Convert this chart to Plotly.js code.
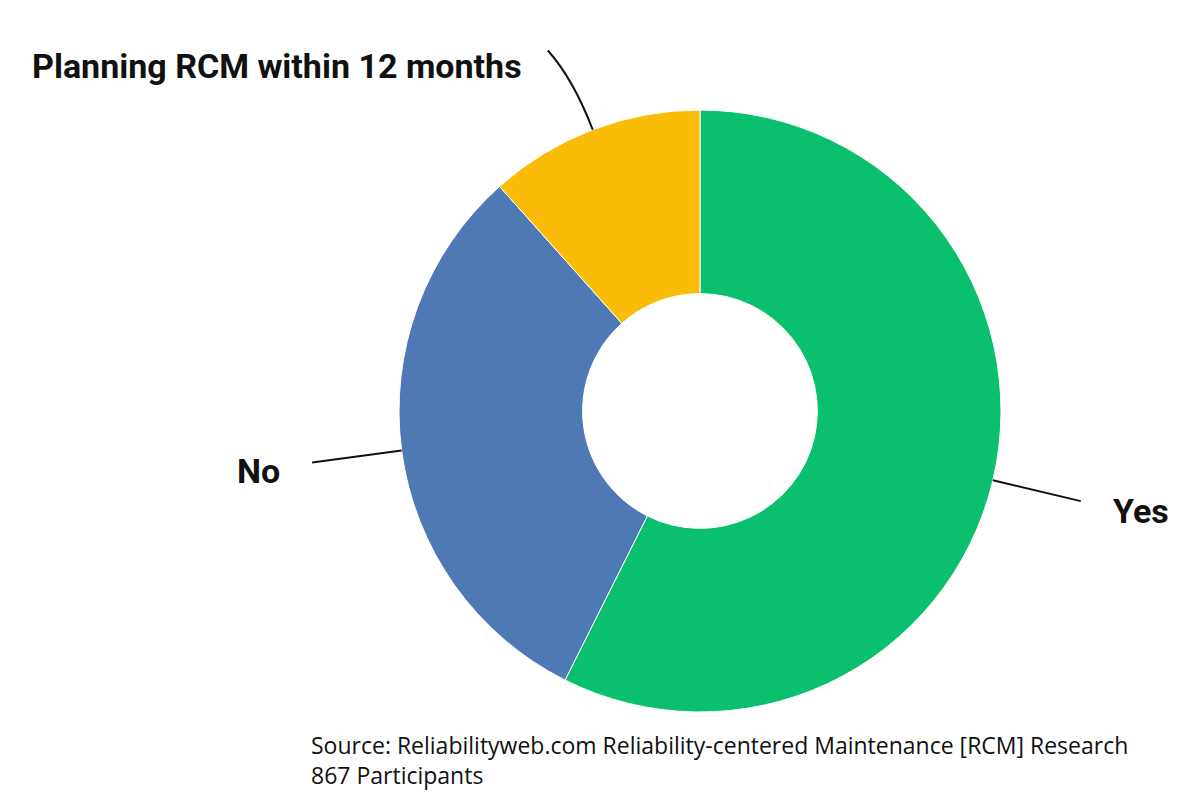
<!DOCTYPE html>
<html>
<head>
<meta charset="utf-8">
<script src="https://cdn.plot.ly/plotly-3.0.1.min.js"></script>
<style>
  html, body { margin:0; padding:0; background:#fff; }
  #chart { width:1200px; height:807px; }
</style>
</head>
<body>
<div id="chart"></div>
<script>
"use strict"

// RCM survey answers (share of 867 participants)
const answers = ["Yes", "No", "Planning RCM within 12 months"]
const shares = [57.4, 31.0, 11.6]
const colors = ["#0abf6e", "#4e79b4", "#fbbc07"]
const sourceLines = [
  "Source: Reliabilityweb.com Reliability-centered Maintenance [RCM] Research",
  "867 Participants"
]

const W = 1200, H = 807
// pie placement in pixels -> paper domain
const cx = 700, cy = 411, R = 301
const domain = {
  x: [(cx - R) / W, (cx + R) / W],
  y: [(H - cy - R) / H, (H - cy + R) / H],
}

// leader line tweak per slice (end angle offset in degrees) and label nudges
const leaderBend = [0, 0, -2]
const labelShift = [[30, -10], [-30, -9], [-24, -16]]

const toPaper = (px, py) => [px / W, 1 - py / H]
const polar = (deg, r) => {
  const a = deg * Math.PI / 180
  return [cx + r * Math.sin(a), cy - r * Math.cos(a)]
}

const total = shares.reduce((a, b) => a + b, 0)
let acc = 0
const shapes = []
const annotations = []
shares.forEach((v, i) => {
  const mid = (acc + v / 2) / total * 360
  acc += v
  const p0 = toPaper(...polar(mid, R))
  const pc = toPaper(...polar(mid, R * 1.18))
  const endPx = polar(mid + leaderBend[i], R * 1.30)
  const p1 = toPaper(...endPx)
  shapes.push({
    type: "path",
    xref: "paper", yref: "paper",
    path: `M ${p0[0]} ${p0[1]} Q ${pc[0]} ${pc[1]} ${p1[0]} ${p1[1]}`,
    line: {color: "#111", width: 2},
  })
  const right = endPx[0] > cx
  annotations.push({
    xref: "paper", yref: "paper",
    x: p1[0], y: p1[1],
    text: `<b>${answers[i]}</b>`,
    showarrow: false,
    xanchor: right ? "left" : "right",
    yanchor: "middle",
    xshift: labelShift[i][0],
    yshift: labelShift[i][1],
    font: {family: "Roboto, 'Open Sans', sans-serif", size: 34, color: "#111"},
  })
})

annotations.push({
  xref: "paper", yref: "paper",
  x: 309 / W, y: 1 - 727 / H,
  xanchor: "left", yanchor: "top",
  align: "left",
  showarrow: false,
  text: sourceLines.join("<br>"),
  font: {family: "'Open Sans', sans-serif", size: 23, color: "#111"},
})

const trace = {
  type: "pie",
  labels: answers,
  values: shares,
  hole: 0.39,
  sort: false,
  direction: "clockwise",
  rotation: 0,
  textinfo: "none",
  hoverinfo: "label+percent",
  marker: {colors: colors, line: {color: "#ffffff", width: 1}},
  domain: domain,
  showlegend: false,
}

const layout = {
  width: W,
  height: H,
  margin: {l: 0, r: 0, t: 0, b: 0, pad: 0},
  paper_bgcolor: "#ffffff",
  showlegend: false,
  shapes: shapes,
  annotations: annotations,
}

Plotly.newPlot("chart", [trace], layout, {displayModeBar: false, staticPlot: true})
</script>
</body>
</html>
